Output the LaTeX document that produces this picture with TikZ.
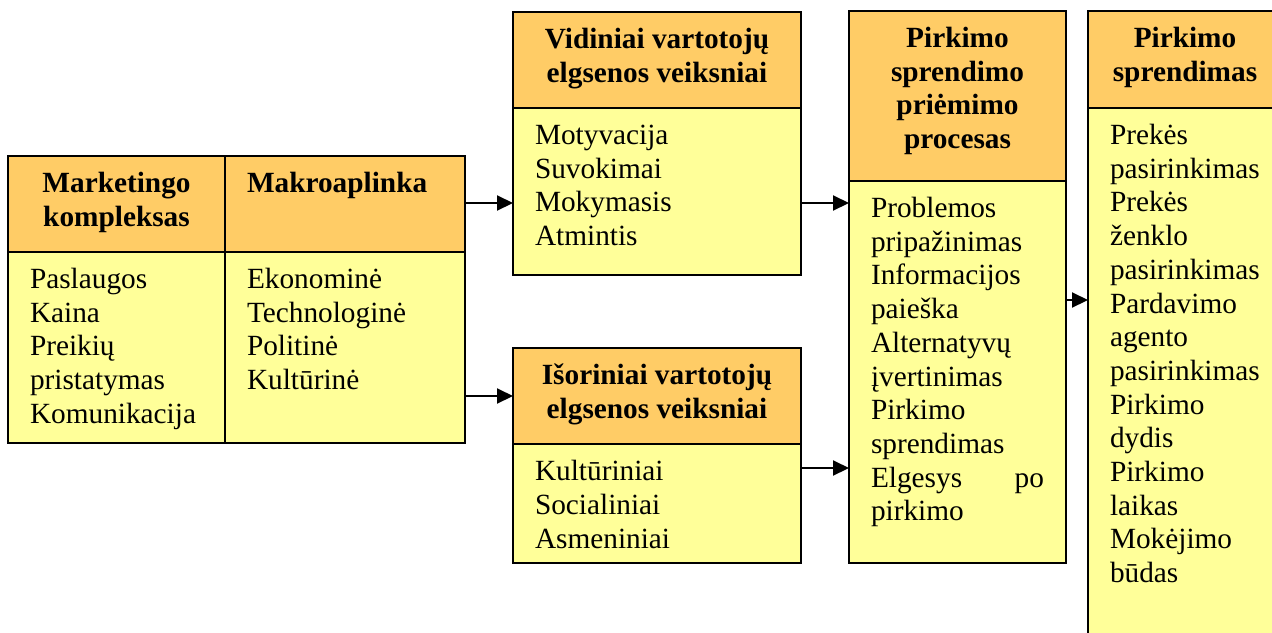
\documentclass[tikz,border=0pt]{standalone}
\usepackage{fontspec}
\setmainfont{Liberation Serif}
\usetikzlibrary{arrows.meta,positioning}
\definecolor{headorange}{HTML}{FFCC66}
\definecolor{bodyyellow}{HTML}{FFFF99}
\newcommand{\cell}[3]{\parbox[t][#2][t]{#1}{\strut#3}}
\newcommand{\ccell}[3]{\parbox[t][#2][t]{#1}{\centering\strut#3}}
\begin{document}
\fontsize{14.65pt}{16.85pt}\selectfont
\begin{tikzpicture}[x=0.5pt,y=-0.5pt,
  box/.style={draw,line width=1.1pt,inner xsep=11pt,inner ysep=6.5pt,outer sep=0pt,anchor=north west},
  head/.style={box,fill=headorange,font=\bfseries},
  body/.style={box,fill=bodyyellow},
  arr/.style={line width=1pt,-{Triangle[length=8pt,width=7.5pt]}}]
  \useasboundingbox (0,0) rectangle (1272,632);
  \clip (0,0) rectangle (1272,632);
  \node (kh) [head] at (8,156) {\ccell{86.5pt}{35pt}{Marketingo\\kompleksas}};
  \node (mh) [head] at (kh.north east) {\cell{98pt}{35pt}{Makroaplinka}};
  \node (kb) [body] at (kh.south west) {\cell{86.5pt}{82.5pt}{Paslaugos\\Kaina\\Preikių\\pristatymas\\Komunikacija}};
  \node (mb) [body] at (mh.south west) {\cell{98pt}{82.5pt}{Ekonominė\\Technologinė\\Politinė\\Kultūrinė}};
  \node (vh) [head] at (513,12) {\ccell{122pt}{35pt}{Vidiniai vartotojų\\elgsenos veiksniai}};
  \node (vb) [body] at (vh.south west) {\cell{122pt}{70.5pt}{Motyvacija\\Suvokimai\\Mokymasis\\Atmintis}};
  \node (ih) [head] at (513,348) {\ccell{122pt}{35pt}{Išoriniai vartotojų\\elgsenos veiksniai}};
  \node (ib) [body] at (ih.south west) {\cell{122pt}{46.5pt}{Kultūriniai\\Socialiniai\\Asmeniniai}};
  \node (ph) [head] at (849,11) {\ccell{86.5pt}{72pt}{Pirkimo\\sprendimo\\priėmimo\\procesas}};
  \node (pb) [body] at (ph.south west) {\cell{86.5pt}{178pt}{Problemos\\pripažinimas\\Informacijos\\paieška\\Alternatyvų\\įvertinimas\\Pirkimo\\sprendimas\\Elgesys\hfill po\\pirkimo}};
  \node (fh) [head] at (1088,11) {\ccell{75pt}{35.5pt}{Pirkimo\\sprendimas}};
  \node (fb) [body] at (fh.south west) {\cell{75pt}{263pt}{Prekės\\pasirinkimas\\Prekės\\ženklo\\pasirinkimas\\Pardavimo\\agento\\pasirinkimas\\Pirkimo\\dydis\\Pirkimo\\laikas\\Mokėjimo\\būdas}};
  \draw[arr] (mh.east |- 0,203) -- (vb.west |- 0,203);
  \draw[arr] (mb.east |- ih.west) -- (ih.west);
  \draw[arr] (vb.east |- 0,203) -- (pb.west |- 0,203);
  \draw[arr] (ib.east |- 0,468) -- (pb.west |- 0,468);
  \draw[arr] (pb.east |- 0,300) -- (fb.west |- 0,300);
\end{tikzpicture}
\end{document}
